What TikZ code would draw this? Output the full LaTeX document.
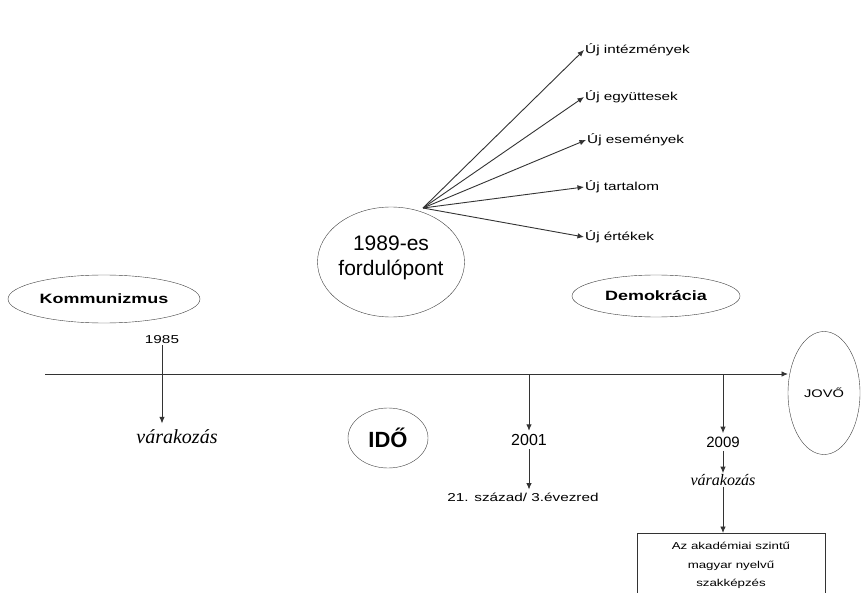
\documentclass[tikz,border=0pt]{standalone}
\usepackage{fontspec}
\setmainfont{Liberation Sans}
\newfontfamily\widefont{Liberation Sans}[FakeStretch=1.33]
\newfontfamily\serifit{Liberation Serif}[ItalicFont={Liberation Serif Italic}]
\usepackage{tikz}
\usetikzlibrary{arrows.meta,positioning,shapes.geometric}

\tikzset{
  ell/.style = {draw = black!75, shape = ellipse, inner sep = 0pt},
  lbl/.style = {font = \widefont\fontsize{11.5}{13}\selectfont, inner sep = 1pt},
  ray/.style = {draw = black!80, line width = 0.9pt, -{Latex[length = 6.5pt, width = 5.5pt]}}
}

\begin{document}
\begin{tikzpicture}[x = 1pt, y = -1pt]
\clip (0,0) rectangle (861,593);
\fill[white] (0,0) rectangle (861,593);

% the time axis
\coordinate (t0) at (45,374);
\coordinate (t1) at (788,374);
\draw[ray] (t0) -- (t1);
\node[ell, minimum width = 72pt, minimum height = 123pt, font = \widefont\fontsize{11}{13}\selectfont] (jovo) at (824,393) {JOVŐ};

% eras
\node[ell, minimum width = 192pt, minimum height = 48pt, font = \widefont\bfseries\fontsize{13.5}{15}\selectfont] (komm) at (104,299) {Kommunizmus};
\node[ell, minimum width = 168pt, minimum height = 42pt, font = \widefont\bfseries\fontsize{13.5}{15}\selectfont] (demo) at (656,296) {Demokrácia};
\node[ell, minimum width = 80pt, minimum height = 60pt, font = \bfseries\fontsize{22}{24}\selectfont] (ido) at (388,438) {IDŐ};

% 1989
\node[ell, minimum width = 147pt, minimum height = 110pt] (fordulo) at (391,262) {};
\node[font = \fontsize{21}{25}\selectfont, align = center] (fordtxt) at (391,258) {1989-es\\fordulópont};
\coordinate (src) at (423,208);
\node[lbl, anchor = west] (uj1) at (584,50) {Új intézmények};
\node[lbl, anchor = west] (uj2) at (584,97) {Új együttesek};
\node[lbl, anchor = west] (uj3) at (586,140) {Új események};
\node[lbl, anchor = west] (uj4) at (584,187) {Új tartalom};
\node[lbl, anchor = west] (uj5) at (584,237) {Új értékek};
\foreach \n in {uj1,uj2,uj3,uj4,uj5}
  \draw[ray] (src) -- (\n.west);

% 1985
\node[lbl] (y1985) at (162,340) {1985};
\node[font = \serifit\itshape\fontsize{20}{22}\selectfont] (var1) at (177,437) {várakozás};
\draw[ray] (y1985.south) -- ([yshift = 3pt]var1.north -| y1985.south);

% 2001
\coordinate (a2001) at (529,374);
\node[font = \fontsize{16}{18}\selectfont] (y2001) at (529,440) {2001};
\node[lbl] (sz21) at (523,497) {21. század/ 3.évezred};
\draw[ray] (a2001) -- (y2001.north);
\draw[ray] (y2001.south) -- ([yshift = 2pt]sz21.north -| y2001.south);

% 2009
\coordinate (a2009) at (723,374);
\node[font = \fontsize{15}{17}\selectfont] (y2009) at (723,442) {2009};
\node[font = \serifit\itshape\fontsize{16}{18}\selectfont, inner sep = 1pt] (var2) at (723,480) {várakozás};
\node[draw = black!80, line width = 0.9pt, minimum width = 188pt, minimum height = 80pt, anchor = north, align = center, font = \widefont\fontsize{10}{18.5}\selectfont, inner xsep = 6pt, inner ysep = 9pt] (szak) at (731,533) {Az akadémiai szintű\\magyar nyelvű\\szakképzés\\[4pt]};
\draw[ray] (a2009) -- (y2009.north);
\draw[ray] (y2009.south) -- (var2.north);
\draw[ray] (var2.south) -- (szak.north -| var2.south);
\end{tikzpicture}
\end{document}
